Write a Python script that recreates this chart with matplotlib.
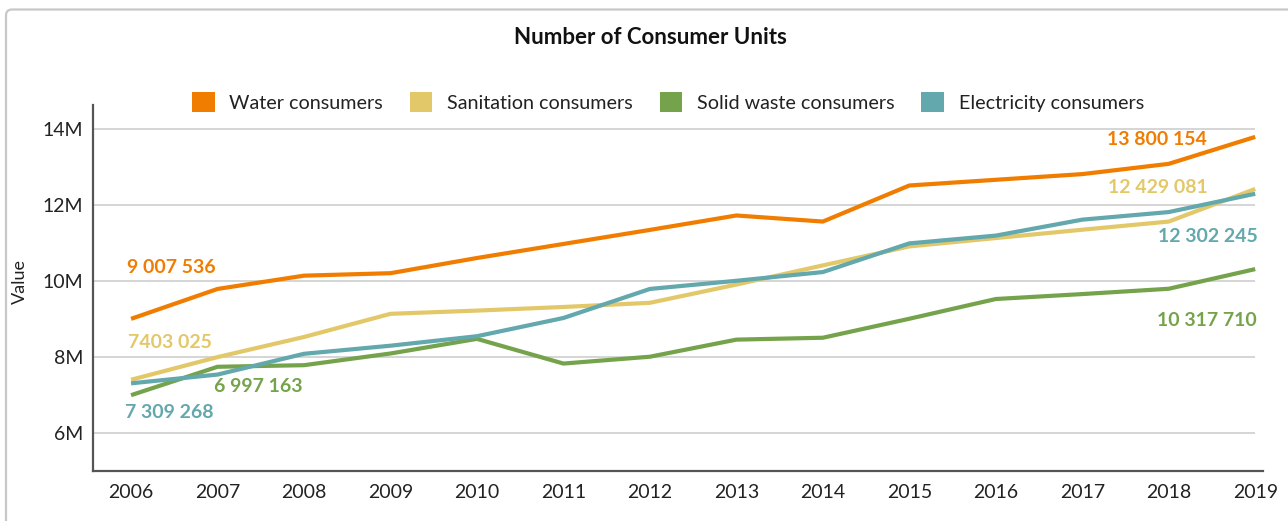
import matplotlib.pyplot as plt
from matplotlib.patches import Patch, FancyBboxPatch
from matplotlib.transforms import IdentityTransform

plt.rcParams['font.family'] = ['Lato', 'DejaVu Sans']

years = list(range(2006, 2020))
water = [9007536, 9795000, 10145000, 10210000, 10610000, 10980000, 11350000,
         11730000, 11570000, 12520000, 12670000, 12820000, 13090000, 13800154]
sanitation = [7403025, 8000000, 8530000, 9140000, 9225000, 9320000, 9430000,
              9910000, 10415000, 10915000, 11135000, 11355000, 11570000, 12429081]
solid_waste = [6997163, 7745000, 7787000, 8095000, 8480000, 7830000, 8010000,
               8460000, 8510000, 9010000, 9530000, 9660000, 9800000, 10317710]
electricity = [7309268, 7540000, 8087000, 8300000, 8550000, 9030000, 9795000,
               10010000, 10240000, 10995000, 11200000, 11620000, 11820000, 12302245]

names = ["Water consumers", "Sanitation consumers", "Solid waste consumers", "Electricity consumers"]
colors = ["#f07d00", "#e3c86a", "#75a34b", "#62a8ac"]
series = [water, sanitation, solid_waste, electricity]

# value labels at the ends of each series
first_labels = ["9 007 536", "7403 025", "6 997 163", "7 309 268"]
last_labels = ["13 800 154", "12 429 081", "10 317 710", "12 302 245"]

# label offsets (points) for the first and last values of each series
first_off = [(-3, 37), (-2, 27), (60, 6), (-4, -21)]
last_off = [(-35, -2), (-34, 1), (1, -37), (2, -31)]

W, H = 1288, 521
fig = plt.figure(figsize=(W / 100, H / 100), dpi=100)

# frame around the whole card
fig.patches.append(FancyBboxPatch((6, -30), 1320, 30 + H - 9.5,
                                  boxstyle="round,pad=0,rounding_size=6",
                                  transform=IdentityTransform(),
                                  facecolor="none", edgecolor="#c8c8c8", lw=1.6))

ax = fig.add_axes([93 / W, 1 - 471 / H, (1263 - 93) / W, (471 - 105) / H])

yticks = [6e6, 8e6, 10e6, 12e6, 14e6]
ax.hlines(yticks, 2005.56, 2019, colors="#d2d2d2", lw=1.3, zorder=1)

for vals, c in zip(series, colors):
    ax.plot(years, vals, color=c, lw=3, solid_capstyle="butt", zorder=3)

for vals, c, fl, ll, fo, lo in zip(series, colors, first_labels, last_labels, first_off, last_off):
    ax.annotate(fl, xy=(years[0], vals[0]), xytext=fo, textcoords="offset points",
                ha="left", va="center", color=c, fontsize=14, fontweight="bold")
    ax.annotate(ll, xy=(years[-1], vals[-1]), xytext=lo, textcoords="offset points",
                ha="right", va="center", color=c, fontsize=14, fontweight="bold")

ax.set_xlim(2005.56, 2019.09)
ax.set_ylim(5e6, 14.64e6)
ax.set_xticks(years)
ax.set_yticks(yticks)
ax.set_yticklabels([f"{v / 1e6:.0f}M" for v in yticks])
ax.tick_params(length=0, labelsize=14, colors="#222222")
ax.tick_params(axis="y", pad=7)
ax.tick_params(axis="x", pad=9)
for s in ["top", "right"]:
    ax.spines[s].set_visible(False)
for s in ["left", "bottom"]:
    ax.spines[s].set_color("#555555")
    ax.spines[s].set_linewidth(1.6)

fig.text(20 / W, 1 - 282 / H, "Value", rotation=90, ha="center", va="center",
         fontsize=13, color="#222222")
fig.text(650 / W, 1 - 37 / H, "Number of Consumer Units", ha="center", va="center",
         fontsize=16, fontweight="bold", color="#111111")

handles = [Patch(facecolor=c, edgecolor="none") for c in colors]
fig.legend(handles, names, loc="center", bbox_to_anchor=(668 / W, 1 - 102 / H),
           ncol=4, frameon=False, fontsize=14.2, handlelength=1.15, handleheight=1.15,
           handletextpad=0.75, columnspacing=1.35, labelcolor="#222222")

fig.savefig("out.png", dpi=100)
